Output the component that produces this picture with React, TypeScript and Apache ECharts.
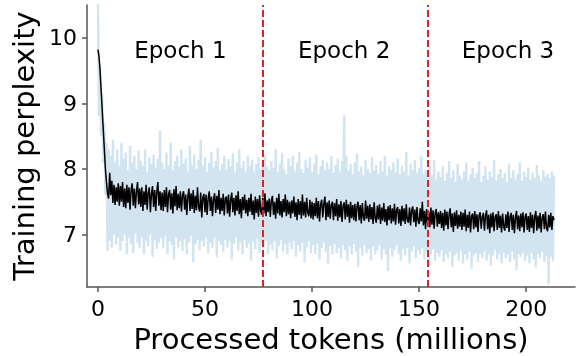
import React, { useEffect, useRef } from "react";
import * as echarts from "echarts";

// millions of tokens between logged points
const TOKEN_STEP = 0.5;

// raw (per-step) training perplexity, light blue
const rawPerplexity = [
  10.7, 8.8, 9.6, 8.5, 9.15, 8.1, 8.7, 7.6, 8.4, 6.75, 8.3, 6.9, 8.2, 6.8, 8.45, 7.0, 8.1, 6.85, 8.3, 6.95,
  8.05, 6.75, 8.4, 6.9, 8.15, 7.0, 8.25, 6.7, 7.98, 6.95, 8.35, 6.85, 8.1, 6.72, 8.2, 7.02, 8.0, 6.88, 8.28, 6.8,
  8.12, 6.95, 8.05, 6.7, 8.3, 6.9, 7.95, 6.82, 8.18, 7.0, 8.08, 6.66, 8.22, 6.92, 8.02, 6.78, 8.15, 6.88, 8.58, 6.95,
  8.1, 6.8, 8.0, 6.98, 8.25, 6.7, 8.05, 6.9, 8.4, 6.84, 7.98, 6.62, 8.12, 6.95, 8.2, 6.8, 8.03, 6.9, 8.3, 6.75,
  8.08, 6.93, 8.16, 6.7, 7.96, 6.88, 8.35, 6.98, 8.06, 6.58, 8.22, 6.85, 8.0, 6.92, 8.14, 6.76, 8.45, 6.9, 8.04, 6.82,
  8.18, 6.95, 7.95, 6.72, 8.1, 6.88, 8.26, 6.8, 8.02, 6.96, 8.12, 6.65, 8.32, 6.9, 7.98, 6.84, 8.08, 6.74, 8.2, 6.92,
  8.0, 6.8, 8.15, 6.9, 8.04, 6.62, 8.24, 6.86, 7.94, 6.96, 8.1, 6.76, 8.3, 6.88, 8.02, 6.7, 8.12, 6.92, 7.96, 6.8,
  8.2, 6.86, 8.05, 6.6, 8.14, 6.9, 7.96, 6.78, 8.08, 6.94, 8.18, 6.72, 8.0, 6.88, 8.1, 6.8, 8.22, 6.9, 8.04, 6.7,
  7.98, 6.85, 8.12, 6.76, 8.02, 6.9, 8.3, 6.64, 7.95, 6.82, 8.08, 6.92, 8.24, 6.74, 8.0, 6.86, 7.92, 6.7, 8.16, 6.88,
  8.04, 6.78, 8.2, 6.9, 7.96, 6.66, 8.1, 6.84, 8.26, 6.74, 8.0, 6.88, 7.94, 6.58, 8.14, 6.8, 8.02, 6.9, 8.18, 6.72,
  7.96, 6.84, 8.08, 6.7, 8.22, 6.86, 7.92, 6.62, 8.04, 6.8, 8.14, 6.88, 7.98, 6.74, 8.1, 6.56, 8.0, 6.82, 8.2, 6.7,
  7.94, 6.86, 8.06, 6.72, 8.16, 6.8, 7.96, 6.64, 8.12, 6.84, 8.82, 6.76, 8.2, 6.6, 7.98, 6.82, 8.08, 6.7, 7.92, 6.86,
  8.1, 6.74, 8.24, 6.5, 7.96, 6.8, 8.04, 6.68, 7.9, 6.84, 8.14, 6.72, 8.0, 6.78, 7.94, 6.6, 8.18, 6.82, 7.98, 6.7,
  8.06, 6.76, 7.92, 6.84, 8.12, 6.62, 7.96, 6.78, 8.2, 6.7, 7.9, 6.44, 8.04, 6.8, 7.98, 6.66, 8.1, 6.76, 7.94, 6.84,
  8.16, 6.7, 7.92, 6.6, 8.04, 6.78, 7.96, 6.68, 8.26, 6.8, 7.9, 6.56, 8.08, 6.74, 7.98, 6.82, 8.14, 6.64, 7.94, 6.76,
  8.02, 6.7, 8.2, 6.8, 7.92, 6.62, 7.98, 6.74, 7.86, 6.52, 8.06, 6.7, 7.9, 6.78, 8.14, 6.6, 7.84, 6.72, 7.96, 6.66,
  7.88, 6.76, 8.04, 6.58, 7.82, 6.7, 7.94, 6.64, 8.12, 6.74, 7.86, 6.5, 7.98, 6.68, 7.8, 6.72, 8.08, 6.6, 7.9, 6.76,
  7.84, 6.56, 7.96, 6.7, 8.1, 6.62, 7.82, 6.74, 7.92, 6.48, 8.02, 6.68, 7.86, 6.72, 7.94, 6.58, 8.12, 6.7, 7.8, 6.64,
  7.9, 6.74, 8.04, 6.6, 7.84, 6.7, 7.96, 6.52, 7.88, 6.68, 8.14, 6.76, 7.82, 6.62, 7.92, 6.7, 8.0, 6.56, 7.86, 6.72,
  7.94, 6.64, 7.8, 6.7, 8.08, 6.58, 7.86, 6.74, 7.98, 6.62, 7.84, 6.46, 7.92, 6.7, 8.1, 6.66, 7.82, 6.72, 7.96, 6.6,
  7.88, 6.68, 8.02, 6.56, 7.84, 6.72, 7.94, 6.62, 7.86, 6.5, 8.06, 6.7, 7.9, 6.64, 7.82, 6.74, 7.98, 6.58, 7.88, 6.68,
  7.92, 6.24, 7.86, 6.66, 7.96, 6.6, 7.9,
];

// smoothed training perplexity, black
const smoothedPerplexity = [
  9.82, 9.72, 9.5, 9.2, 8.9, 8.6, 8.3, 8.0, 7.8, 7.62, 7.55, 7.94, 7.6, 7.82, 7.48, 7.76, 7.45, 7.72, 7.5, 7.78,
  7.44, 7.74, 7.5, 7.8, 7.42, 7.7, 7.4, 7.76, 7.48, 7.72, 7.38, 7.68, 7.78, 7.44, 7.7, 7.4, 7.66, 7.8, 7.46, 7.7,
  7.42, 7.72, 7.36, 7.66, 7.45, 7.76, 7.38, 7.64, 7.72, 7.34, 7.62, 7.74, 7.42, 7.68, 7.36, 7.65, 7.8, 7.44, 7.66, 7.37,
  7.64, 7.36, 7.68, 7.42, 7.72, 7.34, 7.62, 7.68, 7.38, 7.63, 7.32, 7.69, 7.43, 7.74, 7.37, 7.62, 7.4, 7.66, 7.35, 7.6,
  7.66, 7.38, 7.61, 7.3, 7.58, 7.7, 7.36, 7.63, 7.39, 7.68, 7.33, 7.59, 7.37, 7.72, 7.42, 7.35, 7.64, 7.26, 7.57, 7.62,
  7.34, 7.61, 7.3, 7.56, 7.66, 7.36, 7.58, 7.28, 7.54, 7.63, 7.33, 7.59, 7.38, 7.68, 7.31, 7.56, 7.36, 7.62, 7.29, 7.55,
  7.58, 7.32, 7.61, 7.27, 7.53, 7.64, 7.34, 7.56, 7.29, 7.6, 7.36, 7.66, 7.31, 7.54, 7.25, 7.57, 7.37, 7.61, 7.32, 7.53,
  7.28, 7.56, 7.35, 7.62, 7.3, 7.52, 7.23, 7.58, 7.33, 7.54, 7.27, 7.6, 7.36, 7.3, 7.56, 7.32, 7.63, 7.28, 7.52, 7.34,
  7.55, 7.27, 7.52, 7.59, 7.3, 7.5, 7.24, 7.56, 7.32, 7.62, 7.29, 7.51, 7.26, 7.54, 7.34, 7.61, 7.28, 7.53, 7.31, 7.5,
  7.25, 7.52, 7.32, 7.58, 7.27, 7.49, 7.22, 7.54, 7.3, 7.51, 7.24, 7.61, 7.29, 7.5, 7.26, 7.56, 7.33, 7.28, 7.53, 7.25,
  7.5, 7.23, 7.48, 7.28, 7.56, 7.25, 7.51, 7.2, 7.46, 7.53, 7.26, 7.47, 7.58, 7.22, 7.49, 7.27, 7.52, 7.24, 7.45, 7.5,
  7.22, 7.48, 7.28, 7.54, 7.21, 7.46, 7.26, 7.51, 7.19, 7.44, 7.49, 7.23, 7.53, 7.27, 7.46, 7.18, 7.5, 7.25, 7.45, 7.22,
  7.47, 7.2, 7.43, 7.5, 7.22, 7.45, 7.17, 7.48, 7.26, 7.21, 7.52, 7.24, 7.44, 7.19, 7.46, 7.23, 7.42, 7.16, 7.49, 7.25,
  7.18, 7.44, 7.23, 7.46, 7.16, 7.41, 7.21, 7.48, 7.19, 7.39, 7.14, 7.43, 7.22, 7.45, 7.17, 7.4, 7.2, 7.47, 7.15, 7.38,
  7.42, 7.17, 7.39, 7.13, 7.44, 7.2, 7.4, 7.16, 7.46, 7.22, 7.18, 7.41, 7.14, 7.37, 7.43, 7.19, 7.38, 7.12, 7.42, 7.21,
  7.16, 7.4, 7.2, 7.5, 7.14, 7.36, 7.08, 7.39, 7.17, 7.35, 7.11, 7.41, 7.15, 7.37, 7.09, 7.33, 7.39, 7.12, 7.34, 7.16,
  7.36, 7.1, 7.33, 7.06, 7.38, 7.14, 7.35, 7.08, 7.31, 7.4, 7.11, 7.32, 7.04, 7.34, 7.13, 7.37, 7.09, 7.3, 7.12, 7.35,
  7.07, 7.33, 7.12, 7.38, 7.05, 7.3, 7.1, 7.35, 7.03, 7.28, 7.32, 7.08, 7.36, 7.11, 7.31, 7.04, 7.29, 7.34, 7.09, 7.27,
  7.33, 7.06, 7.28, 7.37, 7.08, 7.3, 7.02, 7.32, 7.11, 7.34, 7.05, 7.27, 7.31, 7.07, 7.36, 7.1, 7.29, 7.03, 7.32, 7.12,
  7.06, 7.31, 7.1, 7.35, 7.04, 7.28, 7.33, 7.07, 7.3, 7.02, 7.26, 7.36, 7.08, 7.29, 7.05, 7.32, 7.11, 7.34, 7.03, 7.27,
  7.32, 7.07, 7.28, 7.04, 7.34, 7.1, 7.3, 7.02, 7.27, 7.36, 7.06, 7.29, 7.09, 7.33, 7.03, 7.26, 7.31, 7.08, 7.35, 7.1,
  7.05, 7.3, 7.11, 7.33, 7.07, 7.28, 7.22,
];

const epochBoundaries = [77, 154];
const epochLabels = ["Epoch 1", "Epoch 2", "Epoch 3"];
const epochLabelX = [38.5, 115, 191.5];
const epochLabelY = 9.82;
const xTicks = [0, 50, 100, 150, 200];
const yTicks = [7, 8, 9, 10];

const FONT = "DejaVu Sans";
const SPINE = "#555555";

export default function App() {
  const ref = useRef<HTMLDivElement>(null);

  useEffect(() => {
    document.body.style.margin = "0";
    const chart = echarts.init(ref.current!, null, { renderer: "svg" });

    const rawData = rawPerplexity.map((v, i) => [i * TOKEN_STEP, v]);
    const smoothData = smoothedPerplexity.map((v, i) => [i * TOKEN_STEP, v]);

    chart.setOption({
      animation: false,
      grid: {
        left: 87,
        right: 2,
        top: 5,
        bottom: 69,
        containLabel: false,
        outerBoundsMode: "none",
      },
      xAxis: {
        type: "value",
        min: -5.1,
        max: 222.8,
        name: "Processed tokens (millions)",
        nameLocation: "middle",
        nameGap: 37,
        nameTextStyle: { fontFamily: FONT, fontSize: 29, color: "#000" },
        axisLine: { show: true, onZero: false, lineStyle: { color: SPINE, width: 1.5 } },
        axisTick: {
          show: true,
          length: 5,
          customValues: xTicks,
          lineStyle: { color: SPINE, width: 1.5 },
        },
        axisLabel: {
          customValues: xTicks,
          margin: 10,
          fontFamily: FONT,
          fontSize: 22,
          color: "#000",
        },
        splitLine: { show: false },
      },
      yAxis: {
        type: "value",
        min: 6.2,
        max: 10.5,
        name: "Training perplexity",
        nameLocation: "middle",
        nameGap: 46,
        nameTextStyle: { fontFamily: FONT, fontSize: 29, color: "#000" },
        axisLine: { show: true, onZero: false, lineStyle: { color: SPINE, width: 1.5 } },
        axisTick: {
          show: true,
          length: 5,
          customValues: yTicks,
          lineStyle: { color: SPINE, width: 1.5 },
        },
        axisLabel: {
          customValues: yTicks,
          margin: 10,
          fontFamily: FONT,
          fontSize: 22,
          color: "#000",
        },
        splitLine: { show: false },
      },
      series: [
        {
          type: "line",
          data: rawData,
          showSymbol: false,
          symbol: "none",
          clip: true,
          lineStyle: { color: "#d2e4f0", width: 2.4 },
          itemStyle: { color: "#d2e4f0" },
          z: 1,
        },
        {
          type: "line",
          data: smoothData,
          showSymbol: false,
          symbol: "none",
          clip: true,
          lineStyle: { color: "#000000", width: 1.5 },
          itemStyle: { color: "#000000" },
          z: 2,
          markLine: {
            silent: true,
            symbol: "none",
            label: { show: false },
            lineStyle: { color: "#d62728", width: 2, type: [7, 3] },
            data: epochBoundaries.map((x) => ({ xAxis: x })),
          },
        },
      ],
    });

    const labelPts = epochLabelX.map((x) =>
      chart.convertToPixel({ gridIndex: 0 }, [x, epochLabelY]) as number[]
    );
    chart.setOption({
      graphic: labelPts.map((p, i) => ({
        type: "text",
        x: p[0],
        y: p[1],
        z: 10,
        style: {
          text: epochLabels[i],
          fontFamily: FONT,
          fontSize: 23,
          fill: "#000000",
          align: "center",
          verticalAlign: "middle",
          textAlign: "center",
          textVerticalAlign: "middle",
        },
      })),
    });

    return () => chart.dispose();
  }, []);

  return (
    <div
      ref={ref}
      style={{ position: "fixed", left: 0, top: 0, width: 577, height: 356 }}
    />
  );
}
